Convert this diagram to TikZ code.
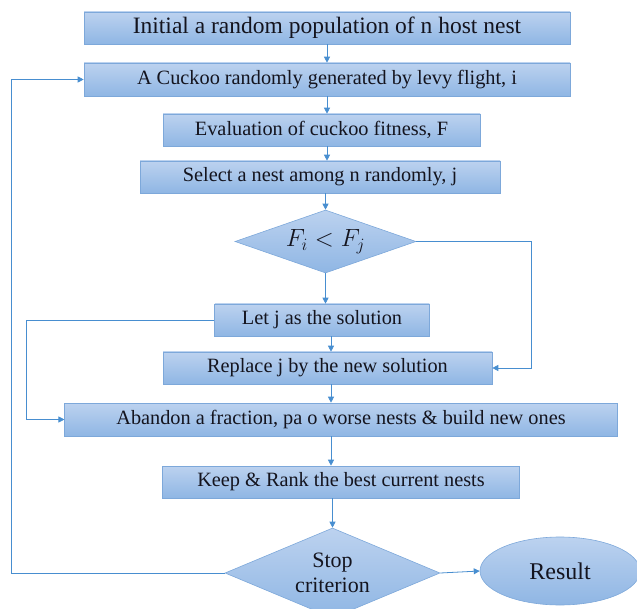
\documentclass[tikz,border=0pt]{standalone}
\usepackage{fontspec}
\setmainfont{Liberation Serif}
\usetikzlibrary{shapes.geometric,arrows.meta}
\definecolor{boxtop}{RGB}{188,210,239}
\definecolor{boxbot}{RGB}{143,182,228}
\definecolor{boxline}{RGB}{125,168,218}
\definecolor{conn}{RGB}{72,142,208}
\definecolor{txt}{RGB}{20,20,30}
\begin{document}
\begin{tikzpicture}[x=1pt,y=-1pt,
  procbox/.style={draw=boxline,line width=0.6pt,top color=boxtop,bottom color=boxbot,
    text=txt,inner sep=0pt,minimum height=32pt,font=\fontsize{20.3}{22}\selectfont},
  decbox/.style={diamond,draw=boxline,line width=0.6pt,top color=boxtop,bottom color=boxbot,
    text=txt,inner sep=0pt,font=\fontsize{22}{24}\selectfont,align=center},
  endbox/.style={ellipse,draw=boxline,line width=0.6pt,top color=boxtop,bottom color=boxbot,
    text=txt,inner sep=0pt,font=\fontsize{24}{26}\selectfont},
  arr/.style={draw=conn,line width=0.8pt,-{Triangle[length=6pt,width=6pt]}}]
\useasboundingbox (0,0) rectangle (637,609);
\node[procbox,minimum width=486pt,minimum height=32pt,font=\fontsize{23.5}{26}\selectfont] (b1) at (327,28) {Initial a random population of n host nest};
\node[procbox,minimum width=486pt,minimum height=33pt] (b2) at (327,79.5) {A Cuckoo randomly generated by levy flight, i};
\node[procbox,minimum width=317pt] (b3) at (321.5,130) {Evaluation of cuckoo fitness, F};
\node[procbox,minimum width=360pt] (b4) at (320,177) {Select a nest among n randomly, j};
\node[decbox,shape aspect=2.87,minimum width=181pt,minimum height=63pt] (d1) at (325.5,241.5) {\fontsize{24}{26}\selectfont$F_i < F_j$};
\node[procbox,minimum width=214.5pt] (lj) at (322,320) {Let j as the solution};
\node[procbox,minimum width=329pt] (rp) at (327.5,368) {Replace j by the new solution};
\node[procbox,minimum width=552.5pt,minimum height=33pt] (ab) at (341,419.5) {Abandon a fraction, pa o worse nests \& build new ones};
\node[procbox,minimum width=356.5pt] (kp) at (341,482) {Keep \& Rank the best current nests};
\node[decbox,shape aspect=2.4,minimum width=215pt,minimum height=90pt] (st) at (332.5,573) {Stop\\[1pt]criterion};
\node[endbox,minimum width=160pt,minimum height=68pt] (rs) at (560,571) {Result};
\coordinate (ax1) at (327,0);
\coordinate (ax2) at (331,0);
\coordinate (lx) at (11,0);
\coordinate (mx) at (26,0);
\coordinate (rx) at (531,0);
\draw[arr] (b1.south -| ax1) -- (b2.north -| ax1);
\draw[arr] (b2.south -| ax1) -- (b3.north -| ax1);
\draw[arr] (b3.south -| ax1) -- (b4.north -| ax1);
\draw[arr] (b4.south -| d1.north) -- (d1.north);
\draw[arr] (d1.south) -- (lj.north -| d1.south);
\draw[arr] (lj.south -| ax2) -- (rp.north -| ax2);
\draw[arr] (rp.south -| ax2) -- (ab.north -| ax2);
\draw[arr] (ab.south -| ax2) -- (kp.north -| ax2);
\draw[arr] (kp.south -| st.north) -- (st.north);
\draw[arr] (st.east) -- (rs.west);
\draw[arr] (d1.east) -- (d1.east -| rx) -- (rp.east -| rx) -- (rp.east);
\draw[arr] (lj.west) -- (lj.west -| mx) -- (ab.west -| mx) -- (ab.west);
\draw[arr] (st.west) -- (st.west -| lx) -- (b2.west -| lx) -- (b2.west);
\end{tikzpicture}
\end{document}
